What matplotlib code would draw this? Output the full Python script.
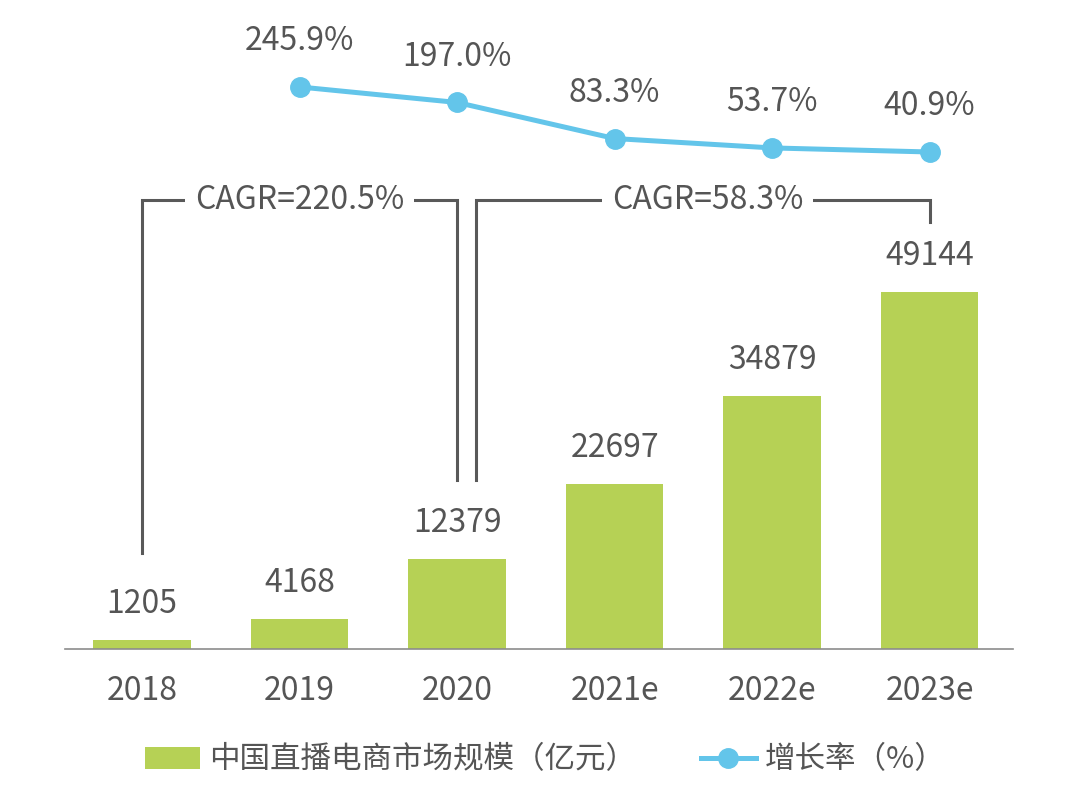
import matplotlib.pyplot as plt
import numpy as np

plt.rcParams['font.family'] = ['Noto Sans CJK SC', 'DejaVu Sans']

years = ["2018", "2019", "2020", "2021e", "2022e", "2023e"]
scale = [1205, 4168, 12379, 22697, 34879, 49144]
growth = [np.nan, 245.9, 197.0, 83.3, 53.7, 40.9]
cagr_labels = ["CAGR=220.5%", "CAGR=58.3%"]

bar_color = "#b6d155"
line_color = "#63c5ea"
text_color = "#555555"
fs = 23

fig = plt.figure(figsize=(10.8, 8.02), dpi=100)
ax = fig.add_axes([65 / 1080, 1 - 649 / 802, 948 / 1080, 629 / 802])
x = np.arange(len(years))

ax.bar(x, scale, width=0.62, color=bar_color, label="中国直播电商市场规模（亿元）", zorder=2)
ax.set_xlim(-0.49, 5.53)
ax.set_ylim(0, 86587)
for xi, v in zip(x, scale):
    ax.annotate(str(v), (xi, v), xytext=(0, 26), textcoords="offset points",
                ha="center", va="center", fontsize=fs, color=text_color)

for s in ["top", "right", "left"]:
    ax.spines[s].set_visible(False)
ax.spines["bottom"].set_color("#8c8c8c")
ax.spines["bottom"].set_linewidth(1.2)
ax.set_yticks([])
ax.set_xticks(x)
ax.set_xticklabels(years, fontsize=fs, color=text_color)
ax.tick_params(axis="x", length=0, pad=19)

# growth line on its own scale
ax2 = ax.twinx()
ax2.set_ylim(-1526, 457)
ax2.plot(x, growth, color=line_color, lw=3.6, marker="o", ms=14,
         label="增长率（%）", zorder=3)
ax2.axis("off")
for xi, g in zip(x, growth):
    if np.isnan(g):
        continue
    ax2.annotate(f"{g:.1f}%", (xi, g), xytext=(0, 33), textcoords="offset points",
                 ha="center", va="center", fontsize=fs, color=text_color)

# CAGR brackets
bracket_y = 61808
brackets = [
    (0, 2.0, 13215, 23264, 1.0, cagr_labels[0]),
    (2.12, 5, 23264, 58780, 3.59, cagr_labels[1]),
]
for x0, x1, y0, y1, tx, lab in brackets:
    ax.plot([x0, x0, x1, x1], [y0, bracket_y, bracket_y, y1],
            color="#595959", lw=2.2, zorder=1, solid_joinstyle="miter")
    ax.text(tx, bracket_y, lab, ha="center", va="center", fontsize=fs,
            color=text_color, zorder=4,
            bbox=dict(facecolor="white", edgecolor="none", pad=7))

h1, l1 = ax.get_legend_handles_labels()
h2, l2 = ax2.get_legend_handles_labels()
fig.legend(h1 + h2, l1 + l2, loc="center", bbox_to_anchor=(0.505, 1 - 760 / 802),
           ncol=2, frameon=False, fontsize=22, labelcolor=text_color,
           handlelength=1.8, handletextpad=0.3, columnspacing=2.1)

fig.savefig("out.png", dpi=100)
